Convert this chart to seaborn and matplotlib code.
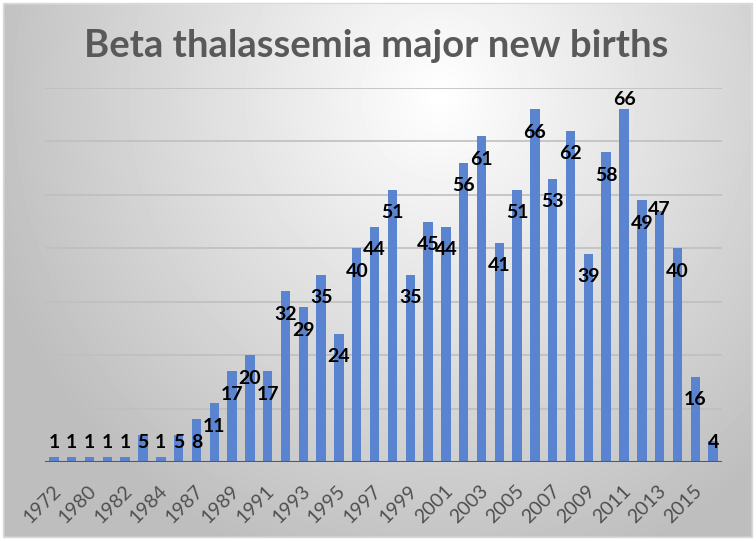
import numpy as np
import pandas as pd
import seaborn as sns
from matplotlib import pyplot as plt
from matplotlib.patches import Rectangle
from matplotlib.transforms import ScaledTranslation

# data (only every other year is labelled on the axis)
years = ["1972", "1978", "1980", "1981", "1982", "1983", "1984", "1986",
         "1987", "1988", "1989", "1990", "1991", "1992", "1993", "1994",
         "1995", "1996", "1997", "1998", "1999", "2000", "2001", "2002",
         "2003", "2004", "2005", "2006", "2007", "2008", "2009", "2010",
         "2011", "2012", "2013", "2014", "2015", "2016"]
births = [1, 1, 1, 1, 1, 5, 1, 5, 8, 11, 17, 20, 17, 32, 29, 35, 24, 40, 44, 51,
          35, 45, 44, 56, 61, 41, 51, 66, 53, 62, 39, 58, 66, 49, 47, 40, 16, 4]
title = "Beta thalassemia major new births"

df = pd.DataFrame({"year": years, "births": births})

W, H = 756, 541
fig = plt.figure(figsize=(W / 100, H / 100), dpi=100)
fig.patch.set_facecolor("white")

# radial grey gradient behind the chart
bg = fig.add_axes([0, 0, 1, 1], zorder=-10)
yy, xx = np.mgrid[0:H, 0:W]
d = np.sqrt(((xx - 440) / 1.0) ** 2 + ((yy - 95) / 1.05) ** 2)
shade = np.clip(255 - 62 * (d / 450), 190, 255) / 255
bg.imshow(shade, cmap="gray", vmin=0, vmax=1, extent=[0, W, H, 0], aspect="auto")
bg.add_patch(Rectangle((0, 0), W, H, fill=False, lw=6, ec="white"))
bg.add_patch(Rectangle((3, 3), W - 7, H - 7, fill=False, lw=1, ec="#d9d9d9"))
bg.set_xlim(0, W)
bg.set_ylim(H, 0)
bg.axis("off")

ax = fig.add_axes([45 / W, 1 - 462 / H, (722 - 45) / W, (462 - 88) / H])
ax.patch.set_alpha(0)
sns.barplot(data=df, x="year", y="births", color="#5b84d0", saturation=1,
            width=0.53, ax=ax, zorder=3)

ax.set_ylim(0, 70)
ax.set_xlim(-0.5, len(years) - 0.5)
for g in range(10, 71, 10):
    ax.axhline(g, color="#bfbfbf", lw=1.2, zorder=1)
ax.axhline(0, color="#595959", lw=2.2, zorder=4)
for s in ax.spines.values():
    s.set_visible(False)
ax.set_yticks([])
ax.set_xlabel("")
ax.set_ylabel("")
ax.set_xticks(range(0, len(years), 2))
ax.set_xticklabels(years[::2], rotation=45, ha="right", va="center",
                   rotation_mode="anchor", fontsize=14, color="#505050",
                   family="Lato")
ax.tick_params(axis="x", length=0, pad=19)
shift = ScaledTranslation(4 / 100, 0, fig.dpi_scale_trans)
for lab in ax.get_xticklabels():
    lab.set_transform(lab.get_transform() + shift)

# labels sit a bit inside the bar top, like the original
special = {32: 67.8, 34: 47.2}
for i, v in enumerate(births):
    ly = special.get(i, max(v - 4.3, 3.6))
    ax.text(i, ly, str(v), ha="center", va="center", fontsize=14,
            fontweight="bold", family="Lato", color="black", zorder=5)

fig.text(376 / W, 1 - 46 / H, title, ha="center", va="center", fontsize=27.5,
         fontweight="bold", family="Lato", color="#595959")

fig.savefig("out.png", dpi=100)
